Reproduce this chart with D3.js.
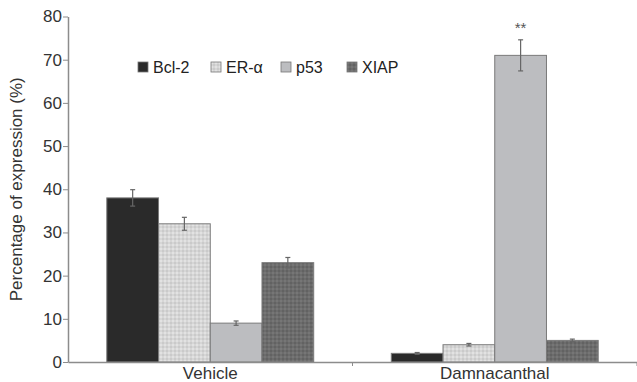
<html>
<head>
    <script src="https://cdn.jsdelivr.net/npm/d3@7"></script>
    <style>
        body { margin: 0; background: white; }
        text { font-family: "Liberation Sans", Arial, sans-serif; }
    </style>
</head>
<body>
    <svg id="chart"></svg>
    <script>
        var groups = ["Vehicle", "Damnacanthal"];
        var markers = ["Bcl-2", "ER-\u03b1", "p53", "XIAP"];
        var vehicleValues = [38, 32, 9, 23];
        var vehicleErrors = [1.9, 1.5, 0.5, 1.2];
        var damnValues = [2, 4, 71, 5];
        var damnErrors = [0.2, 0.3, 3.6, 0.3];
        var yTicks = [0, 10, 20, 30, 40, 50, 60, 70, 80];

        var W = 637, H = 382;
        var plotLeft = 68, plotRight = 637, plotTop = 16.5, plotBottom = 362;

        var svg = d3.select("#chart").attr("width", W).attr("height", H);
        var defs = svg.append("defs");

        // dotted fill for ER-alpha
        var p1 = defs.append("pattern").attr("id", "dotsLight")
            .attr("width", 4).attr("height", 4).attr("patternUnits", "userSpaceOnUse");
        p1.append("rect").attr("width", 4).attr("height", 4).attr("fill", "#d6d6d6");
        p1.append("rect").attr("x", 0).attr("y", 0).attr("width", 2).attr("height", 2).attr("fill", "#e2e2e2");
        p1.append("rect").attr("x", 2).attr("y", 2).attr("width", 2).attr("height", 2).attr("fill", "#cacaca");

        // checked fill for XIAP
        var p2 = defs.append("pattern").attr("id", "dotsDark")
            .attr("width", 4).attr("height", 4).attr("patternUnits", "userSpaceOnUse");
        p2.append("rect").attr("width", 4).attr("height", 4).attr("fill", "#6c6c6c");
        p2.append("rect").attr("x", 0).attr("y", 0).attr("width", 2).attr("height", 2).attr("fill", "#767676");
        p2.append("rect").attr("x", 2).attr("y", 2).attr("width", 2).attr("height", 2).attr("fill", "#626262");

        var fills = ["#2a2a2a", "url(#dotsLight)", "#bcbdc0", "url(#dotsDark)"];

        var x0 = d3.scaleBand().domain(groups).range([plotLeft, plotRight]).paddingInner(0).paddingOuter(0);
        var x1 = d3.scaleBand().domain(markers).range([0, x0.bandwidth()]).paddingOuter(0.75).paddingInner(0);
        var y = d3.scaleLinear().domain([0, 80]).range([plotBottom, plotTop]);

        var data = [];
        groups.forEach(function(g, gi) {
            var vals = gi === 0 ? vehicleValues : damnValues;
            var errs = gi === 0 ? vehicleErrors : damnErrors;
            markers.forEach(function(m, mi) {
                data.push({ group: g, marker: m, value: vals[mi], err: errs[mi], fill: fills[mi] });
            });
        });

        var axisColor = "#8c8c8c";

        // bars
        svg.selectAll(".bar").data(data).enter().append("rect")
            .attr("x", function(d){ return x0(d.group) + x1(d.marker); })
            .attr("y", function(d){ return y(d.value); })
            .attr("width", x1.bandwidth())
            .attr("height", function(d){ return y(0) - y(d.value); })
            .attr("fill", function(d){ return d.fill; })
            .attr("stroke", "#7a7a7a").attr("stroke-width", 1);

        // error bars
        var eb = svg.selectAll(".err").data(data).enter().append("g")
            .attr("transform", function(d){ return "translate(" + (x0(d.group) + x1(d.marker) + x1.bandwidth()/2) + ",0)"; });
        eb.append("line")
            .attr("y1", function(d){ return y(d.value + d.err); })
            .attr("y2", function(d){ return y(d.value - d.err); })
            .attr("stroke", "#666").attr("stroke-width", 1.2);
        eb.append("line").attr("x1", -2.5).attr("x2", 2.5)
            .attr("y1", function(d){ return y(d.value + d.err); })
            .attr("y2", function(d){ return y(d.value + d.err); })
            .attr("stroke", "#666").attr("stroke-width", 1.2);
        eb.append("line").attr("x1", -2.5).attr("x2", 2.5)
            .attr("y1", function(d){ return y(d.value - d.err); })
            .attr("y2", function(d){ return y(d.value - d.err); })
            .attr("stroke", "#666").attr("stroke-width", 1.2);

        // significance mark
        var star = data[6];
        svg.append("text")
            .attr("x", x0(star.group) + x1(star.marker) + x1.bandwidth()/2)
            .attr("y", y(star.value + star.err) - 7)
            .attr("text-anchor", "middle")
            .attr("font-size", 15).attr("fill", "#555")
            .text("**");

        // y axis
        var yAxis = svg.append("g").attr("transform", "translate(" + plotLeft + ",0)")
            .call(d3.axisLeft(y).tickValues(yTicks).tickSize(5).tickSizeOuter(0));
        yAxis.select(".domain").attr("stroke", axisColor).attr("stroke-width", 1.5);
        yAxis.selectAll(".tick line").attr("stroke", axisColor);
        yAxis.selectAll(".tick text").attr("font-size", 17).attr("fill", "#333")
            .attr("font-family", "Liberation Sans, Arial, sans-serif").attr("x", -6);

        // x axis
        var xAxis = svg.append("g").attr("transform", "translate(0," + plotBottom + ")")
            .call(d3.axisBottom(x0).tickSize(0).tickSizeOuter(0));
        xAxis.select(".domain").attr("stroke", axisColor).attr("stroke-width", 1.5);
        xAxis.selectAll(".tick text").attr("font-size", 17).attr("fill", "#333")
            .attr("font-family", "Liberation Sans, Arial, sans-serif").attr("dy", "0.95em").attr("y", 1);
        svg.selectAll(".xsep").data(groups).enter().append("line")
            .attr("x1", function(d){ return x0(d) + x0.bandwidth(); })
            .attr("x2", function(d){ return x0(d) + x0.bandwidth(); })
            .attr("y1", plotBottom).attr("y2", plotBottom + 4)
            .attr("stroke", axisColor);

        // y title
        svg.append("text")
            .attr("transform", "translate(22," + ((plotTop + plotBottom)/2) + ") rotate(-90)")
            .attr("text-anchor", "middle")
            .attr("font-size", 17).attr("fill", "#333")
            .text("Percentage of expression (%)");

        // legend
        var legendX = [138, 211, 281, 347];
        var lg = svg.selectAll(".legend").data(markers).enter().append("g")
            .attr("transform", function(d, i){ return "translate(" + legendX[i] + ",62)"; });
        lg.append("rect").attr("width", 10).attr("height", 10)
            .attr("fill", function(d, i){ return fills[i]; })
            .attr("stroke", "#777").attr("stroke-width", 0.8);
        lg.append("text").attr("x", 15).attr("y", 10.5)
            .attr("font-size", 16).attr("fill", "#222")
            .text(function(d){ return d; });
    </script>
</body>
</html>
